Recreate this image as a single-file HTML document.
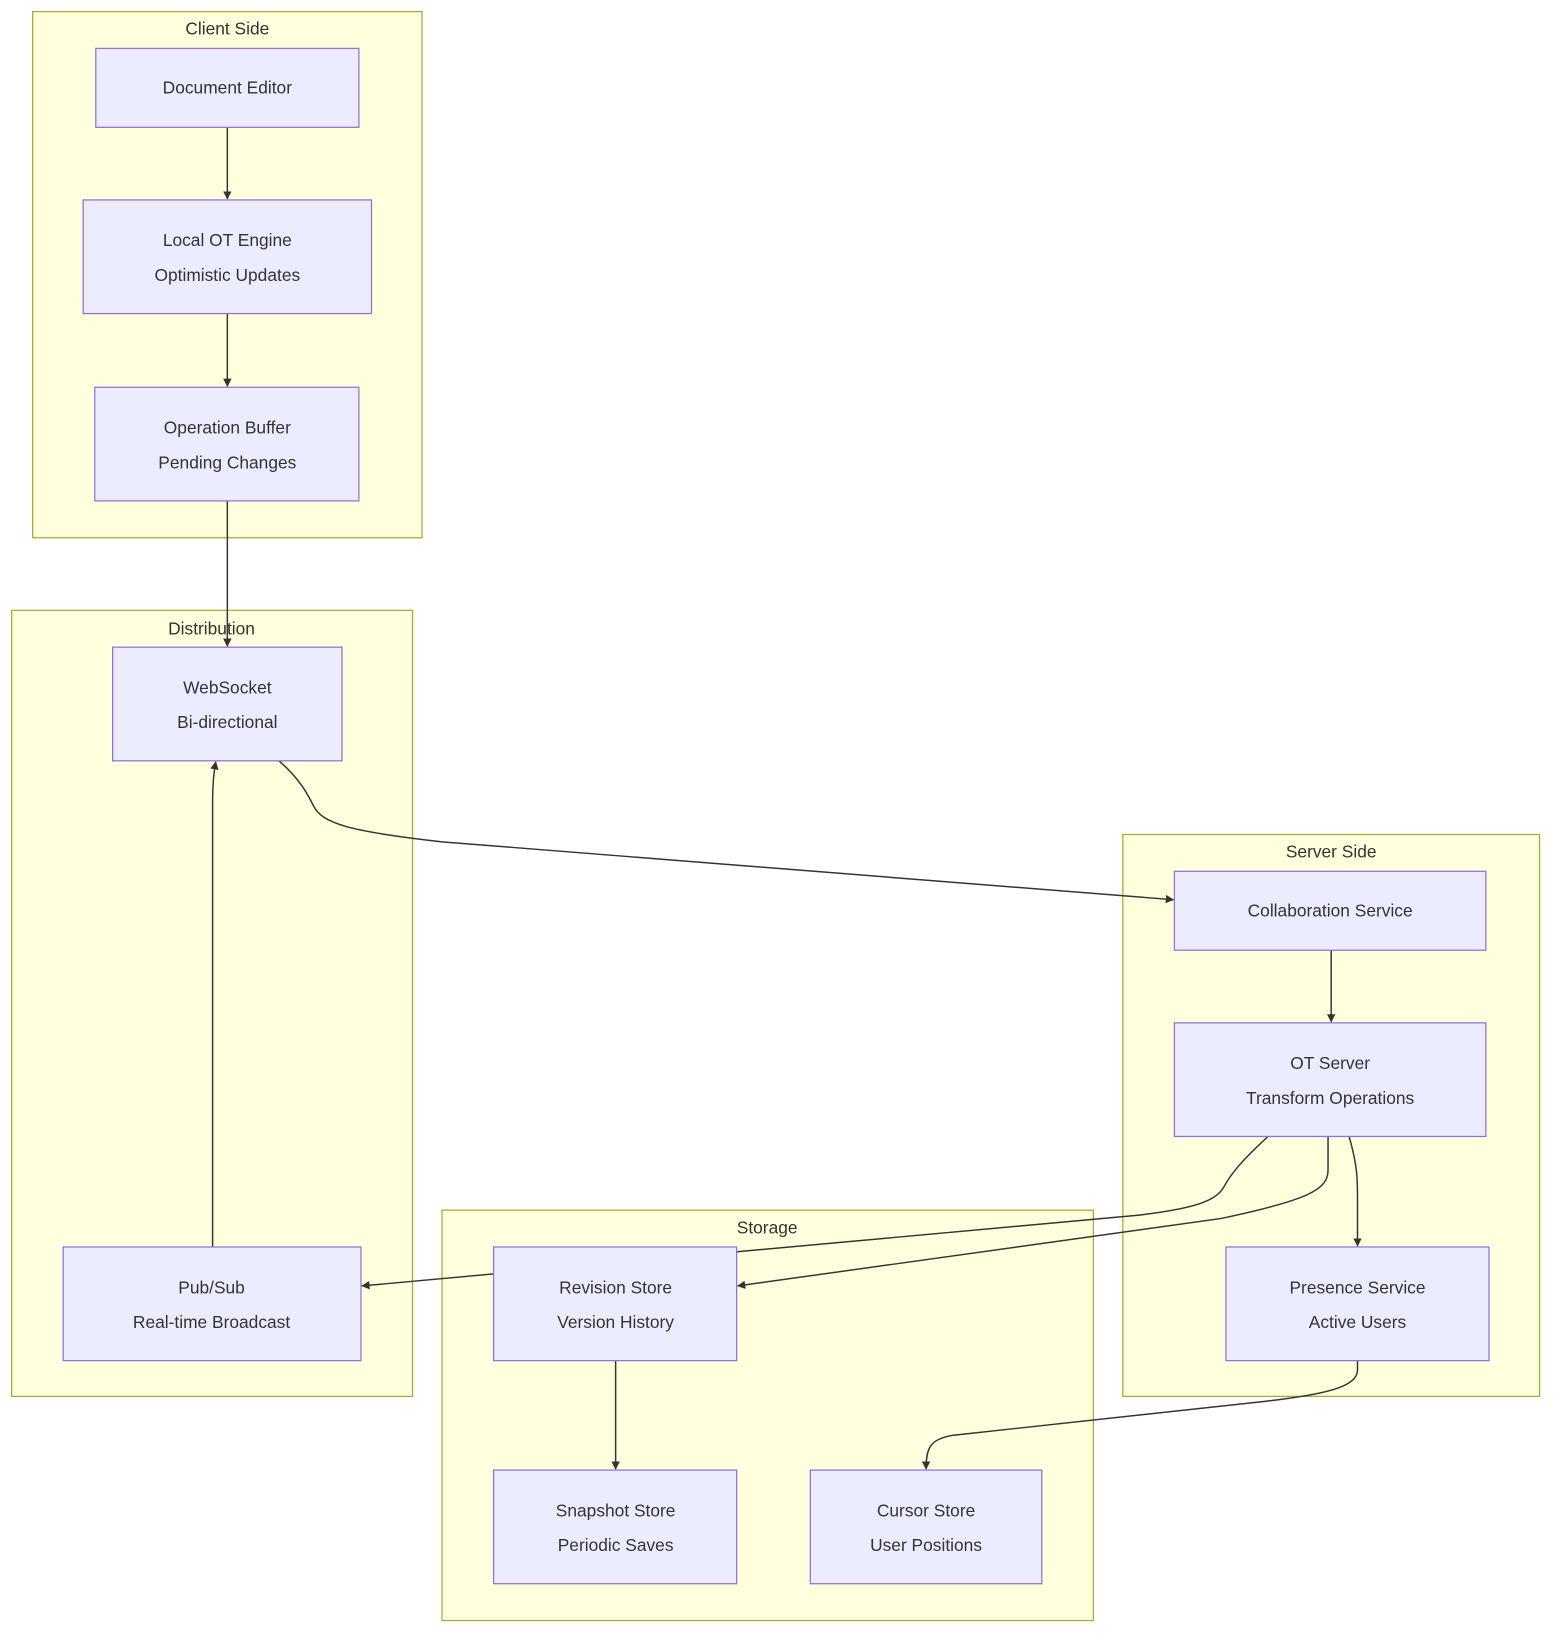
<!DOCTYPE html>
<html><head><meta charset="utf-8"><style>
html,body{margin:0;padding:0;background:#fff;}
svg{display:block;}
text{font-family:"Liberation Sans","DejaVu Sans",sans-serif;font-size:16.5px;fill:#333;text-anchor:middle;}
.c{fill:#ffffde;stroke:#aaaa33;stroke-width:1.2;}
.n{fill:#ECECFF;stroke:#9370DB;stroke-width:1.2;}
.e{fill:none;stroke:#333;stroke-width:1.4;}
</style></head><body>
<svg width="1568" height="1650" viewBox="0 0 1490 1568" xmlns="http://www.w3.org/2000/svg">
<defs><marker id="a" viewBox="0 0 10 10" refX="9" refY="5" markerWidth="8" markerHeight="8" orient="auto" markerUnits="userSpaceOnUse"><path d="M0,0L10,5L0,10z" fill="#333"/></marker></defs>
<rect class="c" x="31" y="11" width="370" height="500"/>
<text x="216" y="33">Client Side</text>
<rect class="c" x="11" y="580" width="381" height="747"/>
<text x="201" y="603">Distribution</text>
<rect class="c" x="1067" y="793" width="396" height="534"/>
<text x="1265" y="815">Server Side</text>
<rect class="c" x="420" y="1150" width="619" height="390"/>
<text x="729" y="1172">Storage</text>

<path class="e" marker-end="url(#a)" d="M216,121L216,189"/>
<path class="e" marker-end="url(#a)" d="M216,298L216,367"/>
<path class="e" marker-end="url(#a)" d="M216,476L216,614"/>
<path class="e" marker-end="url(#a)" d="M265,723C285,740 293,756 298,766C306,782 330,790 420,800L1115,855"/>
<path class="e" marker-end="url(#a)" d="M1265,903L1265,971"/>
<path class="e" marker-end="url(#a)" d="M1205,1080C1180,1103 1170,1115 1163,1128C1156,1140 1140,1148 1080,1155L344,1222"/>
<path class="e" marker-end="url(#a)" d="M1262,1080L1262,1112C1262,1130 1245,1140 1160,1158L701,1222"/>
<path class="e" marker-end="url(#a)" d="M1282,1080C1290,1108 1290,1120 1290,1140L1290,1184"/>
<path class="e" marker-end="url(#a)" d="M1290,1293L1290,1302C1290,1318 1260,1325 1200,1332L905,1364C885,1368 880,1374 880,1396"/>
<path class="e" marker-end="url(#a)" d="M585,1293L585,1396"/>
<path class="e" marker-end="url(#a)" d="M202,1185L202,760C202,745 203,735 205,724"/>

<rect class="n" x="91" y="46" width="250" height="75"/>
<text x="216" y="89">Document Editor</text>
<rect class="n" x="79" y="190" width="274" height="108"/>
<text x="216" y="234">Local OT Engine</text><text x="216" y="267">Optimistic Updates</text>
<rect class="n" x="90" y="368" width="251" height="108"/>
<text x="216" y="412">Operation Buffer</text><text x="216" y="445">Pending Changes</text>
<rect class="n" x="107" y="615" width="218" height="108"/>
<text x="216" y="659">WebSocket</text><text x="216" y="692">Bi-directional</text>
<rect class="n" x="60" y="1185" width="283" height="108"/>
<text x="201" y="1229">Pub/Sub</text><text x="201" y="1262">Real-time Broadcast</text>
<rect class="n" x="1116" y="828" width="296" height="75"/>
<text x="1264" y="871">Collaboration Service</text>
<rect class="n" x="1116" y="972" width="296" height="108"/>
<text x="1264" y="1016">OT Server</text><text x="1264" y="1049">Transform Operations</text>
<rect class="n" x="1165" y="1185" width="250" height="108"/>
<text x="1290" y="1229">Presence Service</text><text x="1290" y="1262">Active Users</text>
<rect class="n" x="469" y="1185" width="231" height="108"/>
<text x="585" y="1229">Revision Store</text><text x="585" y="1262">Version History</text>
<rect class="n" x="469" y="1397" width="231" height="108"/>
<text x="585" y="1441">Snapshot Store</text><text x="585" y="1474">Periodic Saves</text>
<rect class="n" x="770" y="1397" width="220" height="108"/>
<text x="880" y="1441">Cursor Store</text><text x="880" y="1474">User Positions</text>
</svg>
</body></html>
